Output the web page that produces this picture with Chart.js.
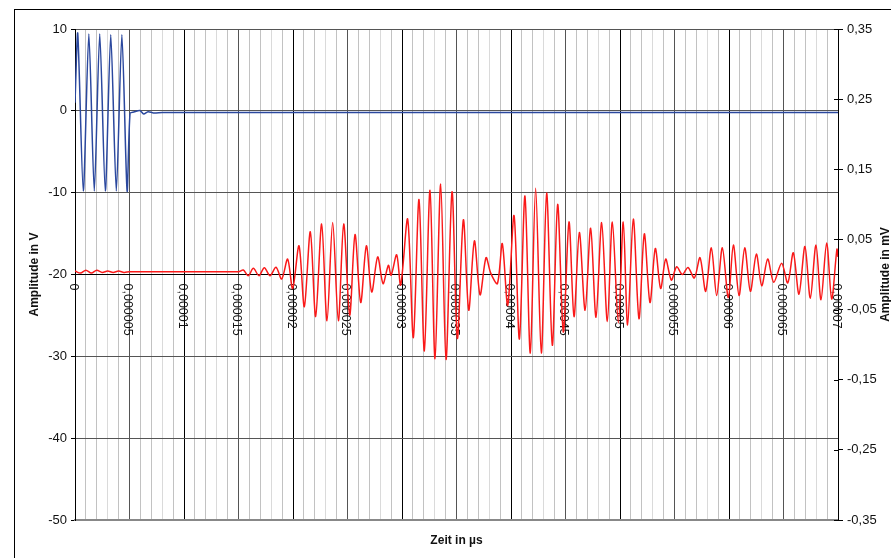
<!DOCTYPE html>
<html>
<head>
<meta charset="utf-8">
<script src="https://cdn.jsdelivr.net/npm/chart.js@4.4.1/dist/chart.umd.min.js"></script>
<style>
html, body { margin: 0; padding: 0; background: #fff; }
#wrap { width: 891px; height: 558px; }
</style>
</head>
<body>
<div id="wrap"><canvas id="myChart" width="891" height="558"></canvas></div>
<script>
// x values are in µs, labels are written the way the sheet shows seconds
var xTicks = [0, 5, 10, 15, 20, 25, 30, 35, 40, 45, 50, 55, 60, 65, 70];
var xTickLabels = ['0', '0,000005', '0,00001', '0,000015', '0,00002', '0,000025', '0,00003',
    '0,000035', '0,00004', '0,000045', '0,00005', '0,000055', '0,00006', '0,000065', '0,00007'];

var leftTicks = [10, 0, -10, -20, -30, -40, -50];
var rightTicks = [0.35, 0.25, 0.15, 0.05, -0.05, -0.15, -0.25, -0.35];
var rightTickLabels = ['0,35', '0,25', '0,15', '0,05', '-0,05', '-0,15', '-0,25', '-0,35'];

// sender (V, left axis)
var blueT = [0, 0.25, 0.76, 1.27, 1.77, 2.27, 2.78, 3.28, 3.79, 4.30, 4.78, 5.05, 5.4, 5.95, 6.3, 6.7, 7.2, 8, 10, 15, 20, 30, 40, 50, 60, 70];
var blueV = [1.0, 9.5, -9.8, 9.4, -9.8, 9.4, -9.8, 9.3, -9.8, 9.3, -9.8, -0.3, -0.15, 0.05, -0.4, -0.1, -0.25, -0.2, -0.2, -0.2, -0.2, -0.2, -0.2, -0.2, -0.2, -0.2];

// receiver (mV, right axis)
var redT = [0, 0.5, 1, 1.5, 2, 2.5, 3, 3.5, 4, 4.5, 5, 15.0,
    15.44, 15.90, 16.36, 16.88, 17.37, 17.89, 18.44, 18.96, 19.51, 19.97,
    20.55, 21.04, 21.59, 22.08, 22.63, 23.12, 23.64, 24.16, 24.65, 25.20,
    25.69, 26.21, 26.73, 27.22, 27.77, 28.26, 28.75, 29.00, 29.51, 29.88,
    30.52, 31.04, 31.56, 32.05, 32.57, 33.03, 33.55, 34.04, 34.59, 35.08,
    35.63, 36.12, 36.64, 37.16, 37.71, 38.14, 38.75, 39.20, 39.70,
    40.28, 40.77, 41.28, 41.77, 42.26, 42.78, 43.27, 43.79, 44.28, 44.80,
    45.32, 45.78, 46.27, 46.80, 47.31, 47.80, 48.32, 48.84, 49.30, 49.85,
    50.30, 50.70, 51.22, 51.74, 52.23, 52.75, 53.24, 53.73, 54.19, 54.71,
    55.20, 55.72, 56.24, 56.82, 57.34, 57.86, 58.38, 58.87, 59.39, 59.94,
    60.40, 60.92, 61.44, 61.96, 62.51, 63.00, 63.55, 64.10, 64.83, 65.39,
    65.90, 66.42, 66.97, 67.46, 67.98, 68.44, 68.96, 69.42, 69.90, 70.00];
var redV = [0.005, 0.002, 0.006, 0.002, 0.006, 0.003, 0.005, 0.003, 0.005, 0.003, 0.004, 0.004,
    0.0064, -0.0017, 0.0088, -0.0017, 0.0097, -0.0017, 0.0102, -0.0064, 0.022, -0.020,
    0.041, -0.046, 0.061, -0.060, 0.072, -0.066, 0.074, -0.066, 0.072, -0.058,
    0.057, -0.040, 0.041, -0.025, 0.025, -0.013, 0.013, -0.001, 0.028, -0.015,
    0.079, -0.090, 0.107, -0.109, 0.120, -0.120, 0.129, -0.121, 0.118, -0.091,
    0.078, -0.051, 0.048, -0.029, 0.024, 0.002, -0.013, 0.044, -0.044,
    0.084, -0.092, 0.112, -0.112, 0.123, -0.112, 0.116, -0.101, 0.100, -0.082,
    0.075, -0.060, 0.060, -0.051, 0.066, -0.061, 0.074, -0.067, 0.075, -0.069,
    0.075, -0.072, 0.079, -0.063, 0.058, -0.040, 0.037, -0.020, 0.022, -0.008,
    0.011, 0.000, 0.010, -0.005, 0.024, -0.024, 0.038, -0.030, 0.038, -0.033,
    0.042, -0.030, 0.038, -0.024, 0.029, -0.016, 0.022, -0.011, 0.016, -0.012,
    0.031, -0.028, 0.040, -0.034, 0.042, -0.036, 0.045, -0.035, 0.036, 0.025];

var FONT = '"Liberation Sans", Arial, sans-serif';

function pts(t, v) {
    return t.map(function (x, i) { return { x: x, y: v[i] }; });
}

var axisPlugin = {
    id: 'axisPlugin',
    beforeDatasetsDraw: function (chart) {
        var ctx = chart.ctx;
        var xs = chart.scales.x;
        var y0 = chart.scales.y2.getPixelForValue(0);
        ctx.save();
        ctx.font = '12.5px ' + FONT;
        ctx.fillStyle = '#111';
        ctx.textAlign = 'left';
        ctx.textBaseline = 'alphabetic';
        xTicks.forEach(function (v, i) {
            var px = xs.getPixelForValue(v);
            ctx.save();
            ctx.translate(px - 5.5, y0 + 9);
            ctx.rotate(Math.PI / 2);
            ctx.fillText(xTickLabels[i], 0, 0);
            ctx.restore();
        });
        ctx.restore();
    },
    afterDraw: function (chart) {
        var ctx = chart.ctx;
        var a = chart.chartArea;
        var midY = (a.top + a.bottom) / 2;
        ctx.save();
        // outer frame (runs off the right and bottom edge)
        ctx.strokeStyle = '#000';
        ctx.lineWidth = 1;
        ctx.strokeRect(14.5, 9.5, 900, 600);

        // right axis small inner ticks
        var y2 = chart.scales.y2;
        ctx.beginPath();
        rightTicks.forEach(function (v) {
            var py = Math.round(y2.getPixelForValue(v)) + 0.5;
            ctx.moveTo(a.right - 4, py);
            ctx.lineTo(a.right, py);
        });
        ctx.stroke();

        ctx.font = 'bold 12px ' + FONT;
        ctx.fillStyle = '#111';
        ctx.textAlign = 'center';
        ctx.textBaseline = 'middle';
        ctx.fillText('Zeit in µs', (a.left + a.right) / 2, 541);

        ctx.save();
        ctx.translate(35, midY);
        ctx.rotate(-Math.PI / 2);
        ctx.fillText('Amplitude in V', 0, 0);
        ctx.restore();

        ctx.save();
        ctx.translate(886, midY);
        ctx.rotate(-Math.PI / 2);
        ctx.fillText('Amplitude in mV', 0, 0);
        ctx.restore();
        ctx.restore();
    }
};

const ctx = document.getElementById('myChart');
var xx = new Chart(ctx, {
    type: 'line',
    data: {
        datasets: [
            {
                label: 'Sender',
                data: pts(blueT, blueV),
                yAxisID: 'y',
                borderColor: 'rgb(43, 72, 158)',
                borderWidth: 1.5,
                tension: 0.25,
                pointRadius: 0
            },
            {
                label: 'Empfänger',
                data: pts(redT, redV),
                yAxisID: 'y2',
                borderColor: 'rgb(250, 25, 25)',
                borderWidth: 1.5,
                tension: 0.3,
                pointRadius: 0
            }
        ]
    },
    options: {
        responsive: false,
        animation: false,
        devicePixelRatio: 1,
        layout: { padding: { top: 29, left: 0, right: 0, bottom: 0 } },
        plugins: { legend: { display: false }, tooltip: { enabled: false } },
        scales: {
            x: {
                type: 'linear',
                min: 0,
                max: 70,
                ticks: { display: false, stepSize: 1, maxTicksLimit: 100 },
                grid: {
                    drawTicks: false,
                    color: function (c) {
                        var v = Math.round(c.tick.value);
                        if (v % 10 === 0) return '#000';
                        if (v % 5 === 0) return '#555';
                        if (v % 5 === 3) return '#dadada';
                        return '#c2c2c2';
                    }
                },
                border: { color: '#888', width: 2 },
                afterFit: function (s) { s.height = 38; }
            },
            y: {
                position: 'left',
                min: -50,
                max: 10,
                afterBuildTicks: function (s) {
                    s.ticks = leftTicks.map(function (v) { return { value: v }; });
                },
                ticks: {
                    font: { family: FONT, size: 13 },
                    color: '#111',
                    padding: 4,
                    callback: function (v) { return String(v); }
                },
                grid: {
                    tickLength: 4,
                    tickColor: '#000',
                    color: function (c) {
                        var v = c.tick.value;
                        if (v === -20) return '#000';
                        if (v === -50) return '#888';
                        return '#555';
                    }
                },
                border: { color: '#000' },
                afterFit: function (s) { s.width = 75; }
            },
            y2: {
                position: 'right',
                min: -0.35,
                max: 0.35,
                afterBuildTicks: function (s) {
                    s.ticks = rightTicks.map(function (v) { return { value: v }; });
                },
                ticks: {
                    font: { family: FONT, size: 13 },
                    color: '#111',
                    padding: 4,
                    callback: function (v) { return rightTickLabels[rightTicks.indexOf(v)]; }
                },
                grid: { drawOnChartArea: false, tickLength: 5, color: '#000' },
                border: { color: '#000' },
                afterFit: function (s) { s.width = 53; }
            }
        }
    },
    plugins: [axisPlugin]
});
</script>
</body>
</html>
